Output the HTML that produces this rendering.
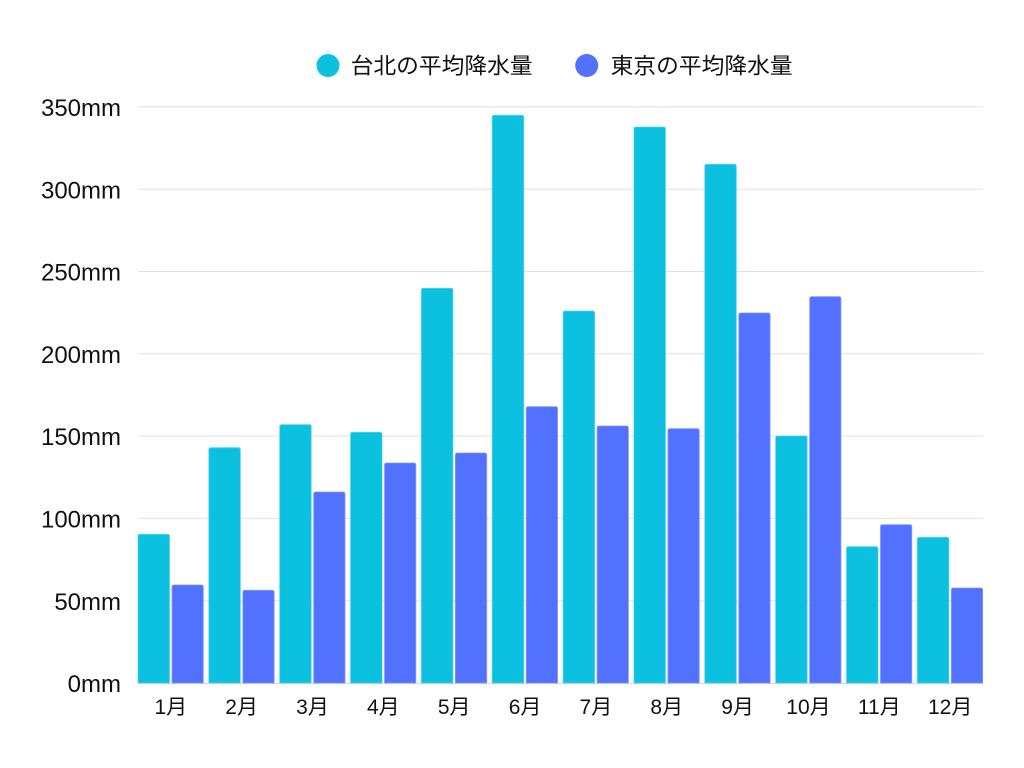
<!DOCTYPE html>
<html>
<head>
<meta charset="utf-8">
<style>
html,body{margin:0;padding:0;background:#fff;}
svg{display:block;}
text{font-family:"Liberation Sans","Noto Sans CJK JP",sans-serif;fill:#111;}
</style>
</head>
<body>
<svg width="1024" height="768" viewBox="0 0 1024 768" xmlns="http://www.w3.org/2000/svg">
  <rect width="1024" height="768" fill="#fff"/>
  <!-- legend -->
  <circle cx="328" cy="65.5" r="11.5" fill="#0cc0df"/>
  <text x="350.7" y="73.5" font-size="22" textLength="182" lengthAdjust="spacingAndGlyphs">台北の平均降水量</text>
  <circle cx="586.7" cy="65.5" r="11.5" fill="#5271ff"/>
  <text x="610.7" y="73.5" font-size="22" textLength="182" lengthAdjust="spacingAndGlyphs">東京の平均降水量</text>

  <!-- gridlines -->
  <g stroke="#e0e0e0" stroke-width="1">
    <line x1="138" y1="106.9" x2="983" y2="106.9"/>
    <line x1="138" y1="189.2" x2="983" y2="189.2"/>
    <line x1="138" y1="271.5" x2="983" y2="271.5"/>
    <line x1="138" y1="353.8" x2="983" y2="353.8"/>
    <line x1="138" y1="436.1" x2="983" y2="436.1"/>
    <line x1="138" y1="518.4" x2="983" y2="518.4"/>
    <line x1="138" y1="600.7" x2="983" y2="600.7"/>
    <line x1="138" y1="683.5" x2="983" y2="683.5" stroke="#d6d6d6"/>
  </g>

  <!-- y labels -->
  <g font-size="24" text-anchor="end">
    <text x="121" y="116">350mm</text>
    <text x="121" y="198.3">300mm</text>
    <text x="121" y="280.6">250mm</text>
    <text x="121" y="362.9">200mm</text>
    <text x="121" y="445.2">150mm</text>
    <text x="121" y="527.5">100mm</text>
    <text x="121" y="609.8">50mm</text>
    <text x="121" y="692.1">0mm</text>
  </g>

  <!-- bars -->
  <g fill="#0cc0df" stroke="#4fd3ea" stroke-width="0.8">
    <path d="M138,683 V536.3 Q138,534.3 140,534.3 H167.5 Q169.5,534.3 169.5,536.3 V683 Z"/>
    <path d="M208.85,683 V449.7 Q208.85,447.7 210.85,447.7 H238.35 Q240.35,447.7 240.35,449.7 V683 Z"/>
    <path d="M279.7,683 V426.7 Q279.7,424.7 281.7,424.7 H309.2 Q311.2,424.7 311.2,426.7 V683 Z"/>
    <path d="M350.55,683 V434.3 Q350.55,432.3 352.55,432.3 H380.05 Q382.05,432.3 382.05,434.3 V683 Z"/>
    <path d="M421.4,683 V290.3 Q421.4,288.3 423.4,288.3 H450.9 Q452.9,288.3 452.9,290.3 V683 Z"/>
    <path d="M492.25,683 V117.3 Q492.25,115.3 494.25,115.3 H521.75 Q523.75,115.3 523.75,117.3 V683 Z"/>
    <path d="M563.1,683 V313 Q563.1,311 565.1,311 H592.6 Q594.6,311 594.6,313 V683 Z"/>
    <path d="M633.95,683 V129 Q633.95,127 635.95,127 H663.45 Q665.45,127 665.45,129 V683 Z"/>
    <path d="M704.8,683 V166.3 Q704.8,164.3 706.8,164.3 H734.3 Q736.3,164.3 736.3,166.3 V683 Z"/>
    <path d="M775.65,683 V438 Q775.65,436 777.65,436 H805.15 Q807.15,436 807.15,438 V683 Z"/>
    <path d="M846.5,683 V548.7 Q846.5,546.7 848.5,546.7 H876 Q878,546.7 878,548.7 V683 Z"/>
    <path d="M917.35,683 V539.3 Q917.35,537.3 919.35,537.3 H946.85 Q948.85,537.3 948.85,539.3 V683 Z"/>
  </g>
  <g fill="#5271ff" stroke="#8097ff" stroke-width="0.8">
    <path d="M172,683 V587 Q172,585 174,585 H201.3 Q203.3,585 203.3,587 V683 Z"/>
    <path d="M242.85,683 V592.3 Q242.85,590.3 244.85,590.3 H272.15 Q274.15,590.3 274.15,592.3 V683 Z"/>
    <path d="M313.7,683 V494 Q313.7,492 315.7,492 H343 Q345,492 345,494 V683 Z"/>
    <path d="M384.55,683 V465 Q384.55,463 386.55,463 H413.85 Q415.85,463 415.85,465 V683 Z"/>
    <path d="M455.4,683 V455 Q455.4,453 457.4,453 H484.7 Q486.7,453 486.7,455 V683 Z"/>
    <path d="M526.25,683 V408.7 Q526.25,406.7 528.25,406.7 H555.55 Q557.55,406.7 557.55,408.7 V683 Z"/>
    <path d="M597.1,683 V428 Q597.1,426 599.1,426 H626.4 Q628.4,426 628.4,428 V683 Z"/>
    <path d="M667.95,683 V430.7 Q667.95,428.7 669.95,428.7 H697.25 Q699.25,428.7 699.25,430.7 V683 Z"/>
    <path d="M738.8,683 V315 Q738.8,313 740.8,313 H768.1 Q770.1,313 770.1,315 V683 Z"/>
    <path d="M809.65,683 V298.7 Q809.65,296.7 811.65,296.7 H838.95 Q840.95,296.7 840.95,298.7 V683 Z"/>
    <path d="M880.5,683 V526.7 Q880.5,524.7 882.5,524.7 H909.8 Q911.8,524.7 911.8,526.7 V683 Z"/>
    <path d="M951.35,683 V590 Q951.35,588 953.35,588 H980.65 Q982.65,588 982.65,590 V683 Z"/>
  </g>

  <!-- x labels -->
  <g font-size="21" text-anchor="middle">
    <text x="170.8" y="714">1月</text>
    <text x="241.65" y="714">2月</text>
    <text x="312.5" y="714">3月</text>
    <text x="383.35" y="714">4月</text>
    <text x="454.2" y="714">5月</text>
    <text x="525.05" y="714">6月</text>
    <text x="595.9" y="714">7月</text>
    <text x="666.75" y="714">8月</text>
    <text x="737.6" y="714">9月</text>
    <text x="808.45" y="714">10月</text>
    <text x="879.3" y="714">11月</text>
    <text x="950.15" y="714">12月</text>
  </g>
</svg>
</body>
</html>
